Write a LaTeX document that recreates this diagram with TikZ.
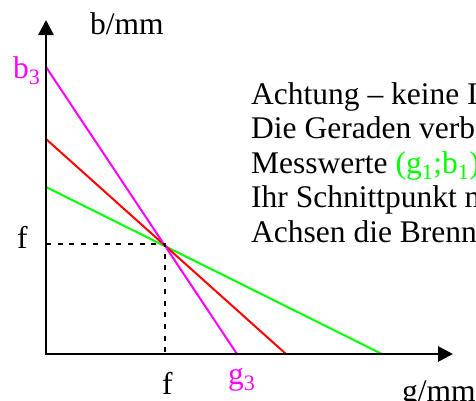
\documentclass[tikz,border=0pt]{standalone}
\usepackage{fontspec}
\setmainfont{Liberation Serif}
\usetikzlibrary{arrows.meta}

\definecolor{lmag}{RGB}{255,0,255}
\definecolor{lred}{RGB}{255,0,0}
\definecolor{lgrn}{RGB}{0,255,0}

\begin{document}
\begin{tikzpicture}[
  x=1bp, y=1bp, font=\fontsize{31.5bp}{34.5bp}\selectfont,
  axis/.style={line width=2.7bp, {Triangle[length=15bp,width=15bp]}-{Triangle[length=15bp,width=15bp]}},
  ray/.style={line width=2bp},
  aux/.style={line width=2bp, dash pattern=on 5bp off 6.7bp},
  lbl/.style={anchor=base west, inner sep=0pt}]
\useasboundingbox (-46,-46) rectangle (430,354);
\clip (-46,-46) rectangle (430,354);
% axes and points
\coordinate (O) at (0,0);
\coordinate (xtip) at (407,0);
\coordinate (ytip) at (0,334);
\coordinate (F) at (119,110);
\coordinate (b1) at (0,167); \coordinate (g1) at (336,0);
\coordinate (b2) at (0,215); \coordinate (g2) at (240,0);
\coordinate (b3) at (0,287); \coordinate (g3) at (191,0);
% lines through the measured points
\draw[ray, lgrn] (b1) -- (g1);
\draw[ray, lred] (b2) -- (g2);
\draw[ray, lmag] (b3) -- (g3);
\draw[aux] (O |- F) -- (F) -- (F |- O);
\draw[axis] (ytip) -- (O) -- (xtip);
% labels
\node[lbl] (bax) at (44,320) {b/mm};
\node[lbl, text=lmag] (b3lab) at (-33,276) {b\textsubscript{3}};
\node[lbl] (fy) at (-29,106) {f};
\node[lbl] (fx) at (116,-40) {f};
\node[lbl, text=lmag] (g3lab) at (182,-30) {g\textsubscript{3}};
\node[lbl] (gax) at (356,-47) {g/mm};
\node[lbl, align=left] (note) at (205,112) {Achtung -- keine Lichtstrahlen!\\
  Die Geraden verbinden die\\
  Messwerte {\color{lgrn}(g\textsubscript{1};b\textsubscript{1})}\\
  Ihr Schnittpunkt markiert auf den\\
  Achsen die Brennweite f.};
\end{tikzpicture}
\end{document}
